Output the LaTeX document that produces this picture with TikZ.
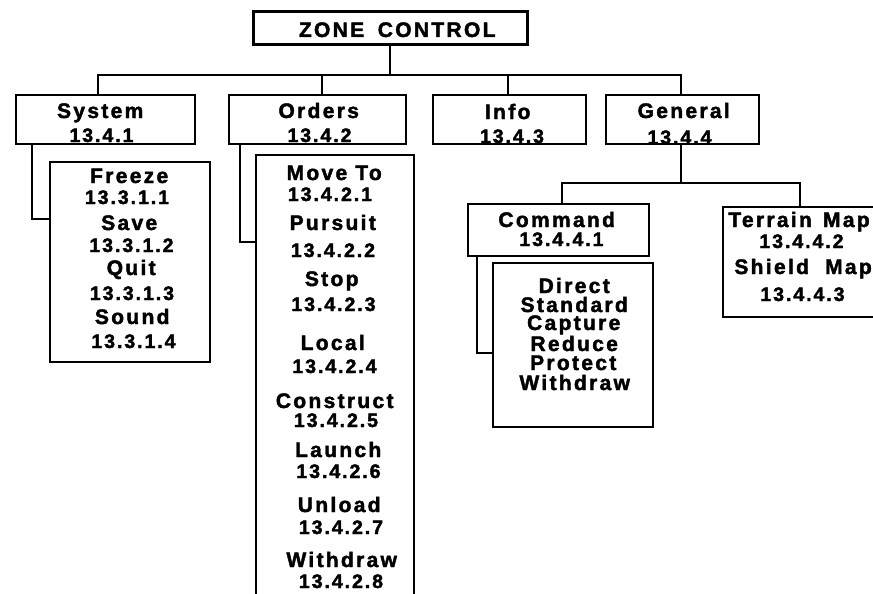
\documentclass[tikz,border=0pt]{standalone}
\usepackage{fontspec}
\setmainfont{Liberation Sans Bold}[LetterSpace=11, FakeBold=2]
\newfontfamily\numfont{Liberation Sans Bold}[LetterSpace=10, FakeBold=2]
\begin{document}
\begin{tikzpicture}[x=1pt,y=-1pt,
  box/.style={draw, line width=1.8pt, rectangle, inner sep=0pt},
  wire/.style={line width=1.8pt},
  wd/.style={anchor=base, inner sep=0pt, xshift=1.2pt,
    font=\fontsize{21}{22}\selectfont},
  num/.style={anchor=base, inner sep=0pt, xshift=1pt,
    font=\numfont\fontsize{19.5}{20}\selectfont}]
\useasboundingbox (0,0) rectangle (873,594);

% boxes
\node[box, line width=3pt, minimum width=274pt, minimum height=33pt] (zc) at (390,28.5) {};
\node[box, minimum width=179pt, minimum height=49pt] (sys) at (105.5,119.5) {};
\node[box, minimum width=177pt, minimum height=49pt] (ord) at (317.5,119.5) {};
\node[box, minimum width=153pt, minimum height=49pt] (inf) at (509.5,119.5) {};
\node[box, minimum width=153pt, minimum height=49pt] (gen) at (682.5,119.5) {};
\node[box, minimum width=160pt, minimum height=200pt] (frz) at (130,262) {};
\node[box, minimum width=158pt, minimum height=445pt] (olist) at (335,377.5) {};
\node[box, minimum width=181pt, minimum height=52pt] (cmd) at (558.5,230) {};
\node[box, minimum width=160pt, minimum height=164pt] (dir) at (573,345) {};
\node[box, minimum width=157pt, minimum height=110pt] (ter) at (801.5,262) {};

% connectors
\coordinate (bus) at (390,75);
\draw[wire] (zc.south) -- (bus);
\draw[wire] ([xshift=-7.5pt]sys.north) |- (bus);
\draw[wire] ([xshift=4.5pt]ord.north) |- (bus);
\draw[wire] ([xshift=-1.5pt]inf.north) |- (bus);
\draw[wire] ([xshift=-1.5pt]gen.north) |- (bus);
\draw[wire] ([xshift=-73.5pt]sys.south) |- ([yshift=43pt]frz.west);
\draw[wire] ([xshift=-77.5pt]ord.south) |- ([yshift=135.5pt]olist.west);
\coordinate (gbus) at (681,183);
\draw[wire] ([xshift=-1.5pt]gen.south) -- (gbus);
\draw[wire] ([xshift=3.5pt]cmd.north) |- (gbus);
\draw[wire] ([xshift=-1.5pt]ter.north) |- (gbus);
\draw[wire] ([xshift=-81.5pt]cmd.south) |- ([yshift=-8pt]dir.west);

% titles
\node[wd] (zct) at (396,37) {ZONE\hspace{5.5pt} CONTROL};
\node[wd] (syst) at (99,118) {System};
\node[num] (sysn) at (100.5,142) {13.4.1};
\node[wd] (ordt) at (317.5,118) {Orders};
\node[num] (ordn) at (318.5,142) {13.4.2};
\node[wd] (inft) at (506.5,119) {Info};
\node[num] (infn) at (511,143) {13.4.3};
\node[wd] (gent) at (682.5,118) {General};
\node[num] (genn) at (678.5,144) {13.4.4};

% system entries
\node[wd] (f1) at (128,183) {Freeze};
\node[num] (f1n) at (126,204) {13.3.1.1};
\node[wd] (f2) at (128,230) {Save};
\node[num] (f2n) at (130.5,252) {13.3.1.2};
\node[wd] (f3) at (130,275) {Quit};
\node[num] (f3n) at (131,300) {13.3.1.3};
\node[wd] (f4) at (131,324) {Sound};
\node[num] (f4n) at (132.5,348) {13.3.1.4};

% orders entries
\node[wd] (o1) at (333,180) {Move To};
\node[num] (o1n) at (329,201) {13.4.2.1};
\node[wd] (o2) at (331.5,230) {Pursuit};
\node[num] (o2n) at (332,257) {13.4.2.2};
\node[wd] (o3) at (330.5,286) {Stop};
\node[num] (o3n) at (332.5,311) {13.4.2.3};
\node[wd] (o4) at (331.5,350) {Local};
\node[num] (o4n) at (333.5,373) {13.4.2.4};
\node[wd] (o5) at (333.5,408) {Construct};
\node[num] (o5n) at (335,427) {13.4.2.5};
\node[wd] (o6) at (337,457) {Launch};
\node[num] (o6n) at (337.5,478) {13.4.2.6};
\node[wd] (o7) at (338,512) {Unload};
\node[num] (o7n) at (340,534) {13.4.2.7};
\node[wd] (o8) at (340.5,567) {Withdraw};
\node[num] (o8n) at (340,588) {13.4.2.8};

% general entries
\node[wd] (c1) at (555.5,227) {Command};
\node[num] (c1n) at (560.5,246) {13.4.4.1};
\node[wd] (d1) at (573,293) {Direct};
\node[wd] (d2) at (573,312) {Standard};
\node[wd] (d3) at (572.5,330) {Capture};
\node[wd] (d4) at (573,351) {Reduce};
\node[wd] (d5) at (572,370) {Protect};
\node[wd] (d6) at (573.5,390) {Withdraw};
\node[wd, anchor=base west, xshift=0pt] (m1) at (727,227) {Terrain\hspace{3pt} Map};
\node[num] (m1n) at (800.5,248) {13.4.4.2};
\node[wd, anchor=base west, xshift=0pt] (m2) at (733,274) {Shield\hspace{8pt} Map};
\node[num] (m2n) at (801.5,301) {13.4.4.3};
\end{tikzpicture}
\end{document}
